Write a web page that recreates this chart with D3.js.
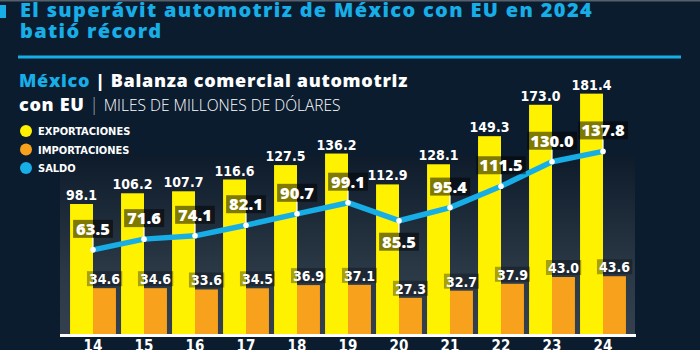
<!DOCTYPE html>
<html><head><meta charset="utf-8">
<script src="https://cdn.jsdelivr.net/npm/d3@7"></script>
<style>
html,body{margin:0;padding:0;background:#0b1c2f;}
svg{display:block;}
</style></head><body>
<svg id="c" width="700" height="350"></svg>
<script>
const years = ["14","15","16","17","18","19","20","21","22","23","24"];
const exportaciones = [98.1,106.2,107.7,116.6,127.5,136.2,112.9,128.1,149.3,173.0,181.4];
const importaciones = [34.6,34.6,33.6,34.5,36.9,37.1,27.3,32.7,37.9,43.0,43.6];
const saldo = [63.5,71.6,74.1,82.1,90.7,99.1,85.5,95.4,111.5,130.0,137.8];
const legendLabels = ["EXPORTACIONES","IMPORTACIONES","SALDO"];

const C = {bg:"#0b1c2f", cyan:"#17aee8", yellow:"#fff200", orange:"#f7a11c"};
const narrow = "'Liberation Sans Narrow','DejaVu Sans Condensed','Roboto Condensed',sans-serif";
const geo = "'Open Sans',Lato,'DejaVu Sans',sans-serif";

const svg = d3.select("#c");
svg.append("rect").attr("width",700).attr("height",350).attr("fill",C.bg);
svg.append("rect").attr("x",0).attr("y",0).attr("width",700).attr("height",1.5).attr("fill","#55606c");
svg.append("rect").attr("x",0).attr("y",5).attr("width",6).attr("height",13).attr("fill",C.cyan);

function spread(sel, w){
  const len = sel.node().getComputedTextLength();
  const n = sel.text().length;
  sel.attr("letter-spacing", (w-len)/n);
}
const t1 = svg.append("text").attr("x",20).attr("y",17).attr("font-family",geo).attr("font-weight",800)
  .attr("font-size",20).attr("fill",C.cyan).text("El superávit automotriz de México con EU en 2024");
spread(t1, 573);
svg.append("text").attr("x",20).attr("y",38).attr("font-family",geo).attr("font-weight",800)
  .attr("font-size",20).attr("letter-spacing",t1.attr("letter-spacing")).attr("fill",C.cyan).text("batió récord");
svg.append("rect").attr("x",18).attr("y",55.5).attr("width",663).attr("height",3).attr("fill",C.cyan);

// panel
const defs = svg.append("defs");
const gr = defs.append("linearGradient").attr("id","pg").attr("x1",0).attr("x2",0).attr("y1",0).attr("y2",1);
gr.append("stop").attr("offset","0%").attr("stop-color","#0e1b2b");
gr.append("stop").attr("offset","65%").attr("stop-color","#2b3845");
gr.append("stop").attr("offset","100%").attr("stop-color","#34404d");
svg.append("rect").attr("x",60).attr("y",155).attr("width",575).attr("height",180).attr("fill","url(#pg)");

// subtitle
const s1 = svg.append("text").attr("x",19).attr("y",87).attr("font-family",geo).attr("font-weight",800).attr("font-size",18);
s1.append("tspan").attr("fill",C.cyan).text("México");
s1.append("tspan").attr("fill","#ffffff").text(" | Balanza comercial automotriz");
spread(s1, 389);
const s2 = svg.append("text").attr("x",19).attr("y",111).attr("font-family",geo).attr("font-size",18);
s2.append("tspan").attr("fill","#fff").attr("font-weight",800).attr("letter-spacing",s1.attr("letter-spacing")).text("con EU");
s2.append("tspan").attr("fill","#9aa4ae").attr("font-weight",300).text(" | ");
s2.append("tspan").attr("fill","#fff").attr("font-weight",300).attr("font-size",15.5).text("MILES DE MILLONES DE DÓLARES");

// legend
const lg = svg.append("g");
const lcol = [C.yellow,C.orange,C.cyan];
legendLabels.forEach((l,i)=>{
  const yy = 131 + i*18.5;
  lg.append("circle").attr("cx",26).attr("cy",yy).attr("r",6).attr("fill",lcol[i]);
  lg.append("text").attr("x",38).attr("y",yy+4).attr("font-family",narrow).attr("font-weight","bold")
    .attr("font-size",11).attr("fill","#fff").text(l);
});

// scales
const x0 = d3.scaleBand().domain(years).range([67.5,628.5]).paddingInner(0.1).paddingOuter(0.05);
const x1 = d3.scaleBand().domain(["exp","imp"]).range([0,x0.bandwidth()]);
const y = d3.scaleLinear().domain([0,200]).range([334,69]);

const g = svg.append("g");
years.forEach((yr,i)=>{
  const gx = x0(yr);
  g.append("rect").attr("x",gx+x1("exp")).attr("y",y(exportaciones[i])).attr("width",x1.bandwidth())
    .attr("height",y(0)-y(exportaciones[i])).attr("fill",C.yellow);
  g.append("rect").attr("x",gx+x1("imp")).attr("y",y(importaciones[i])).attr("width",x1.bandwidth())
    .attr("height",y(0)-y(importaciones[i])).attr("fill",C.orange);
});

// bar labels
years.forEach((yr,i)=>{
  const gx = x0(yr);
  g.append("text").attr("x",gx+x1("exp")+x1.bandwidth()/2).attr("y",y(exportaciones[i])-4)
    .attr("text-anchor","middle").attr("font-family",narrow).attr("font-weight","bold").attr("font-size",14)
    .attr("fill","#fff").text(exportaciones[i].toFixed(1));
  const ox = gx+x1("imp")+x1.bandwidth()/2;
  const t = g.append("text").attr("x",ox).attr("y",y(importaciones[i])-4)
    .attr("text-anchor","middle").attr("font-family",narrow).attr("font-weight","bold").attr("font-size",14)
    .attr("fill","#fff").text(importaciones[i].toFixed(1));
  const bb = t.node().getBBox();
  g.insert("rect","text").attr("x",bb.x-2).attr("y",bb.y).attr("width",bb.width+4).attr("height",bb.height-1)
    .attr("fill","rgba(5,12,20,0.35)");
});

// baseline
svg.append("rect").attr("x",60).attr("y",334).attr("width",576).attr("height",3).attr("fill","#fff");

// year labels
years.forEach(yr=>{
  svg.append("text").attr("x",x0(yr)+x0.bandwidth()/2).attr("y",351).attr("text-anchor","middle")
    .attr("font-family",narrow).attr("font-weight","bold").attr("font-size",15).attr("fill","#fff").text(yr);
});

// saldo line
const cx = yr => x0(yr)+x0.bandwidth()/2;
const line = d3.line().x((d,i)=>cx(years[i])).y(d=>y(d));
svg.append("path").datum(saldo).attr("d",line).attr("fill","none").attr("stroke",C.cyan)
  .attr("stroke-width",5.5).attr("stroke-linejoin","round");

const lab = svg.append("g");
saldo.forEach((v,i)=>{
  const px = cx(years[i]), py = y(v);
  const below = i>0 && i<saldo.length-1 && v<saldo[i-1] && v<saldo[i+1];
  const gap = 12;
  const t = lab.append("text").attr("x",px).attr("text-anchor","middle").attr("font-family",geo)
    .attr("font-weight",800).attr("font-size",16.5).attr("fill","#fff").text(v.toFixed(1));
  const h = 18;
  const top = below ? py+gap : py-gap-h;
  t.attr("y", top+15);
  const bb = t.node().getBBox();
  lab.insert("rect","text").attr("x",bb.x-3).attr("y",top).attr("width",bb.width+6).attr("height",h)
    .attr("fill","rgba(0,0,0,0.5)");
  lab.append("line").attr("x1",px).attr("x2",px).attr("y1",py).attr("y2",below?top:top+h)
    .attr("stroke","#fff").attr("stroke-width",1.2);
  lab.append("circle").attr("cx",px).attr("cy",py).attr("r",2.8).attr("fill","#fff");
});
</script></body></html>
